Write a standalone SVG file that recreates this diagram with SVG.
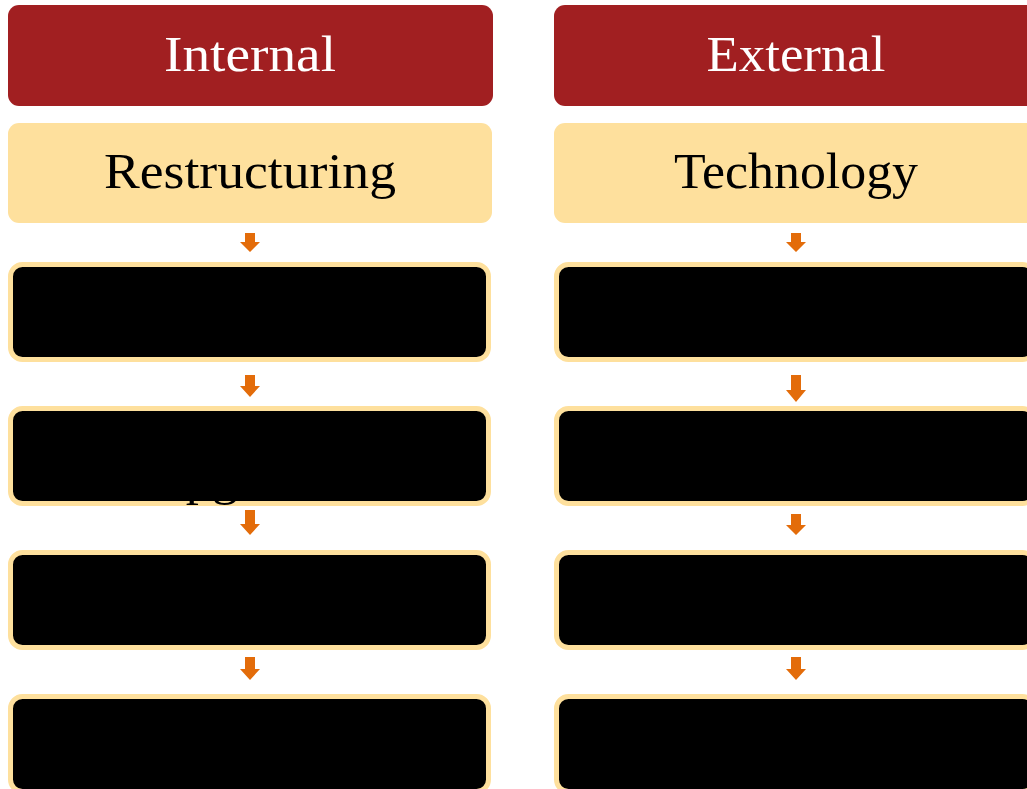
<svg xmlns="http://www.w3.org/2000/svg" width="1027" height="789" viewBox="0 0 1027 789">
<style>
.hdr{fill:#A11F21}
.sub{fill:#FEE09D}
.blk{fill:#000;stroke:#FEE09D;stroke-width:5}
.arr{fill:#E36C0A}
.t1{font-family:"Liberation Serif","DejaVu Serif",serif;font-size:50px;text-anchor:middle}
.w{fill:#fff}
.k{fill:#000}
</style>
<rect width="1027" height="789" fill="#fff"/>
<g id="internal-header"><rect class="hdr" x="8" y="5" width="485" height="101" rx="11"/><text class="t1 w" x="250" y="71" textLength="172" lengthAdjust="spacingAndGlyphs">Internal</text></g>
<g id="external-header"><rect class="hdr" x="554" y="5" width="485" height="101" rx="11"/><text class="t1 w" x="796" y="71" textLength="179" lengthAdjust="spacingAndGlyphs">External</text></g>
<g id="restructuring"><rect class="sub" x="8" y="123" width="484" height="100" rx="11"/><text class="t1 k" x="250" y="188" textLength="292" lengthAdjust="spacingAndGlyphs">Restructuring</text></g>
<g id="technology"><rect class="sub" x="554" y="123" width="484" height="100" rx="11"/><text class="t1 k" x="796" y="188" textLength="244" lengthAdjust="spacingAndGlyphs">Technology</text></g>
<g id="left-1"><rect class="blk" x="10.5" y="264.5" width="478" height="95" rx="12"/></g>
<g id="left-2"><rect class="blk" x="10.5" y="408.5" width="478" height="95" rx="12"/><text class="t1 k" x="238" y="494" textLength="180" lengthAdjust="spacingAndGlyphs">Upgrade</text></g>
<g id="left-3"><rect class="blk" x="10.5" y="552.5" width="478" height="95" rx="12"/></g>
<g id="left-4"><rect class="blk" x="10.5" y="696.5" width="478" height="95" rx="12"/></g>
<g id="right-1"><rect class="blk" x="556.5" y="264.5" width="478" height="95" rx="12"/></g>
<g id="right-2"><rect class="blk" x="556.5" y="408.5" width="478" height="95" rx="12"/></g>
<g id="right-3"><rect class="blk" x="556.5" y="552.5" width="478" height="95" rx="12"/></g>
<g id="right-4"><rect class="blk" x="556.5" y="696.5" width="478" height="95" rx="12"/></g>
<g id="connectors">
<polygon class="arr" points="245,233 255,233 255,242 260,242 250,252 240,242 245,242"/>
<polygon class="arr" points="245,375 255,375 255,386 260,386 250,397 240,386 245,386"/>
<polygon class="arr" points="245,510 255,510 255,524 260,524 250,535 240,524 245,524"/>
<polygon class="arr" points="245,657 255,657 255,669 260,669 250,680 240,669 245,669"/>
<polygon class="arr" points="791,233 801,233 801,242 806,242 796,252 786,242 791,242"/>
<polygon class="arr" points="791,375 801,375 801,390 806,390 796,402 786,390 791,390"/>
<polygon class="arr" points="791,514 801,514 801,525 806,525 796,535 786,525 791,525"/>
<polygon class="arr" points="791,657 801,657 801,669 806,669 796,680 786,669 791,669"/>
</g>
</svg>
